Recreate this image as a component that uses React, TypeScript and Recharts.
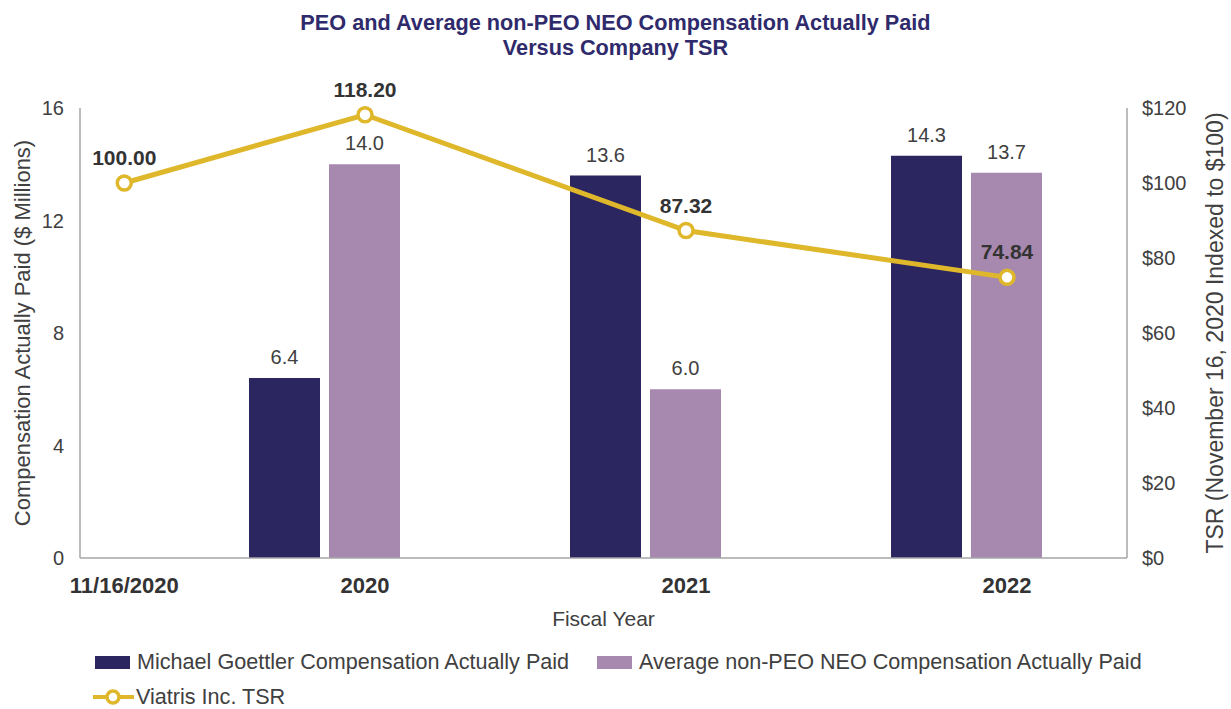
import React from 'react';
import { ComposedChart, Bar, Line, XAxis, YAxis, LabelList, Legend } from 'recharts';

// ---- data ----
const fiscalYears = ['2020', '2021', '2022'];
const peoCap = [6.4, 13.6, 14.3];
const neoCap = [14.0, 6.0, 13.7];

const tsrLabels = ['11/16/2020', '2020', '2021', '2022'];
const tsrPositions = [0.25, 1, 2, 3];
const tsrValues = [100.0, 118.2, 87.32, 74.84];

const compTicks = [0, 4, 8, 12, 16];
const tsrTicks = [0, 20, 40, 60, 80, 100, 120];

const seriesNames = [
  'Michael Goettler Compensation Actually Paid',
  'Average non-PEO NEO Compensation Actually Paid',
  'Viatris Inc. TSR',
];

const barData = fiscalYears.map((year, i) => ({ year, peo: peoCap[i], neo: neoCap[i] }));
const lineData = tsrPositions.map((pos, i) => ({ pos, label: tsrLabels[i], tsr: tsrValues[i] }));

// ---- styles ----
const FONT = '"Liberation Sans", Arial, Helvetica, sans-serif';
const DARK = '#2B2560';
const LIGHT = '#A788AF';
const GOLD = '#DFB72A';
const AXIS = '#A6A6A6';
const TEXT = '#404040';
const TITLE = '#2F2A6B';

const YTitle = (props: any) => {
  const { viewBox, text, dx, fontSize } = props;
  const cx = viewBox.x + dx;
  const cy = viewBox.y + viewBox.height / 2;
  return (
    <text
      x={cx}
      y={cy}
      transform={`rotate(-90 ${cx} ${cy})`}
      textAnchor="middle"
      dominantBaseline="central"
      fontSize={fontSize}
      fill={TEXT}
      fontFamily={FONT}
    >
      {text}
    </text>
  );
};

const XTitle = (props: any) => {
  const { viewBox, text } = props;
  const cx = viewBox.x + viewBox.width / 2;
  const cy = viewBox.y + 60;
  return (
    <text x={cx} y={cy} textAnchor="middle" dominantBaseline="central" fontSize={21} fill={TEXT} fontFamily={FONT}>
      {text}
    </text>
  );
};

const renderLegend = (props: any) => {
  const payload: any[] = [...(props.payload || [])].sort(
    (a, b) => seriesNames.indexOf(a.value) - seriesNames.indexOf(b.value)
  );
  const rects = payload.filter((p) => p.type !== 'line');
  const lines = payload.filter((p) => p.type === 'line');
  const textStyle: React.CSSProperties = { fontSize: 21.6, color: TEXT, fontFamily: FONT, whiteSpace: 'nowrap' };
  return (
    <div style={{ fontFamily: FONT }}>
      <div style={{ display: 'flex', alignItems: 'center', height: 28, paddingLeft: 95, gap: 28 }}>
        {rects.map((p) => (
          <div key={p.value} style={{ display: 'flex', alignItems: 'center' }}>
            <span style={{ display: 'inline-block', width: 35, height: 13, background: p.color, marginRight: 7 }} />
            <span style={textStyle}>{p.value}</span>
          </div>
        ))}
      </div>
      <div style={{ display: 'flex', alignItems: 'center', height: 28, marginTop: 7, paddingLeft: 93 }}>
        {lines.map((p) => (
          <div key={p.value} style={{ display: 'flex', alignItems: 'center' }}>
            <svg width={41} height={20} style={{ marginRight: 2 }}>
              <line x1={0} y1={10} x2={41} y2={10} stroke={p.color} strokeWidth={4} />
              <circle cx={20} cy={10} r={6} fill="#fff" stroke={p.color} strokeWidth={3.5} />
            </svg>
            <span style={textStyle}>{p.value}</span>
          </div>
        ))}
      </div>
    </div>
  );
};

export default function App() {
  return (
    <div style={{ position: 'absolute', left: 0, top: 0, width: 1231, height: 709, background: '#fff' }}>
      <div
        style={{
          position: 'absolute',
          top: 10,
          left: 0,
          width: 1231,
          textAlign: 'center',
          fontFamily: FONT,
          fontWeight: 700,
          fontSize: 21.7,
          lineHeight: '25px',
          color: TITLE,
          zIndex: 2,
        }}
      >
        PEO and Average non-PEO NEO Compensation Actually Paid
        <br />
        Versus Company TSR
      </div>
      <ComposedChart
        width={1231}
        height={709}
        data={barData}
        margin={{ top: 108, right: 20, bottom: 0, left: 20 }}
        barGap={9}
        style={{ fontFamily: FONT }}
      >
        <XAxis
          xAxisId="tsr"
          dataKey="pos"
          type="number"
          domain={[0.1121, 3.3738]}
          allowDataOverflow
          ticks={tsrPositions}
          tickFormatter={(v: number) => tsrLabels[tsrPositions.indexOf(v)] ?? ''}
          interval={0}
          height={151}
          axisLine={{ stroke: AXIS, strokeWidth: 1.5 }}
          tickLine={false}
          tickSize={0}
          tickMargin={19}
          tick={{ fontSize: 22, fontWeight: 700, fill: '#333', fontFamily: FONT }}
          label={<XTitle text="Fiscal Year" />}
        />
        <XAxis
          xAxisId="bars"
          dataKey="year"
          type="category"
          hide
          height={0}
          padding={{ left: 84, right: 0 }}
        />
        <YAxis
          yAxisId="comp"
          orientation="left"
          domain={[0, 16]}
          ticks={compTicks}
          width={60}
          axisLine={{ stroke: AXIS, strokeWidth: 1.5 }}
          tickLine={false}
          tickSize={0}
          tickMargin={16}
          tick={{ fontSize: 20, fill: TEXT, fontFamily: FONT }}
          label={<YTitle text="Compensation Actually Paid ($ Millions)" dx={2} fontSize={22} />}
        />
        <YAxis
          yAxisId="tsr"
          orientation="right"
          domain={[0, 120]}
          ticks={tsrTicks}
          width={84}
          axisLine={{ stroke: AXIS, strokeWidth: 1.5 }}
          tickLine={false}
          tickSize={0}
          tickMargin={15}
          tickFormatter={(v: number) => `$${v}`}
          tick={{ fontSize: 20, fill: TEXT, fontFamily: FONT }}
          label={<YTitle text="TSR (November 16, 2020 Indexed to $100)" dx={88} fontSize={23} />}
        />
        <Bar
          xAxisId="bars"
          yAxisId="comp"
          dataKey="peo"
          name={seriesNames[0]}
          fill={DARK}
          barSize={71}
          isAnimationActive={false}
        >
          <LabelList
            dataKey="peo"
            position="top"
            offset={14}
            formatter={(v: any) => Number(v).toFixed(1)}
            fontSize={20}
            fill={TEXT}
            fontFamily={FONT}
          />
        </Bar>
        <Bar
          xAxisId="bars"
          yAxisId="comp"
          dataKey="neo"
          name={seriesNames[1]}
          fill={LIGHT}
          barSize={71}
          isAnimationActive={false}
        >
          <LabelList
            dataKey="neo"
            position="top"
            offset={14}
            formatter={(v: any) => Number(v).toFixed(1)}
            fontSize={20}
            fill={TEXT}
            fontFamily={FONT}
          />
        </Bar>
        <Line
          xAxisId="tsr"
          yAxisId="tsr"
          data={lineData}
          dataKey="tsr"
          name={seriesNames[2]}
          stroke={GOLD}
          strokeWidth={5}
          dot={{ r: 7, fill: '#fff', stroke: GOLD, strokeWidth: 3.5 }}
          activeDot={false}
          legendType="line"
          isAnimationActive={false}
        >
          <LabelList
            dataKey="tsr"
            position="top"
            offset={18}
            formatter={(v: any) => Number(v).toFixed(2)}
            fontSize={21}
            fontWeight={700}
            fill="#333"
            fontFamily={FONT}
          />
        </Line>
        <Legend
          layout="horizontal"
          verticalAlign="middle"
          align="center"
          content={renderLegend}
          wrapperStyle={{ position: 'absolute', left: 0, top: 648, width: 1231, height: 70 }}
        />
      </ComposedChart>
    </div>
  );
}
